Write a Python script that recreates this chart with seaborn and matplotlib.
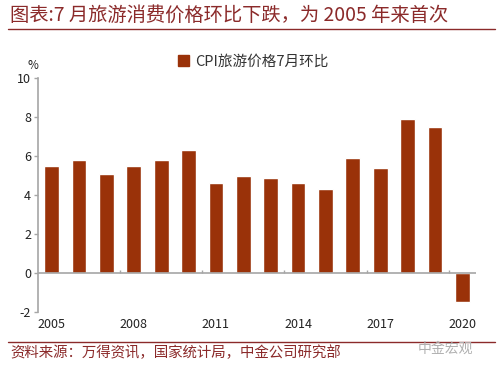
import matplotlib
matplotlib.use("Agg")
import matplotlib.pyplot as plt
import seaborn as sns
import pandas as pd
from matplotlib.patches import Rectangle
from matplotlib.lines import Line2D

years = [str(y) for y in range(2005, 2021)]
values = [5.5, 5.8, 5.1, 5.5, 5.8, 6.3, 4.6, 5.0, 4.9, 4.6, 4.3, 5.9, 5.4, 7.9, 7.5, -1.5]
series_name = "CPI旅游价格7月环比"
label_years = ["2005", "2008", "2011", "2014", "2017", "2020"]
yticks = [-2, 0, 2, 4, 6, 8, 10]

sns.set_theme(style="white")
plt.rcParams['font.family'] = ['Noto Sans CJK SC', 'DejaVu Sans']

bar_color = "#9A3209"
red = "#8B2A2A"
grey = "#A6A6A6"

df = pd.DataFrame({"year": years, "value": values})

fig = plt.figure(figsize=(5.0, 3.72), dpi=100)
ax = fig.add_axes([0.076, 0.161, 0.876, 0.629])
sns.barplot(data=df, x="year", y="value", color=bar_color, width=0.54,
            saturation=1, ax=ax, label=series_name)

ax.set_xlim(-0.5, len(years) - 0.5)
ax.set_ylim(-2, 10)
ax.set_yticks(yticks)
ax.set_yticklabels([str(t) for t in yticks], fontsize=9, color="#222222")
ax.set_xlabel("")
ax.set_ylabel("")
pos = [years.index(y) for y in label_years]
ax.set_xticks(pos)
ax.set_xticklabels(label_years, fontsize=9, color="#222222")
ax.tick_params(axis="x", length=0, pad=4)
ax.tick_params(axis="y", length=3, color=grey, width=1, left=True, pad=2)

for s in ["top", "right", "bottom"]:
    ax.spines[s].set_visible(False)
ax.spines["left"].set_color(grey)
ax.spines["left"].set_linewidth(1.2)
ax.axhline(0, color=grey, lw=1.2, zorder=3)
bounds = [2.5, 5.5, 8.5, 11.5, 14.5]
ax.vlines(bounds, 0, 0.15, color=grey, lw=1.0, zorder=3)

ax.text(0.0, 1.025, "%", transform=ax.transAxes, fontsize=8.5, ha="right", va="bottom", color="#222222")

leg = ax.legend(handles=[Rectangle((0, 0), 1, 1, color=bar_color)], labels=[series_name],
                loc="center left", bbox_to_anchor=(0.32, 1.07), frameon=False,
                borderaxespad=0, borderpad=0,
                fontsize=10.5, handlelength=0.75, handleheight=0.75, handletextpad=0.4)
for t in leg.get_texts():
    t.set_color("#333333")

fig.text(0.02, 0.958, "图表:7 月旅游消费价格环比下跌，为 2005 年来首次", fontsize=13.9,
         color=red, ha="left", va="center", style="italic")
fig.add_artist(Line2D([0.016, 0.99], [0.921, 0.921], color=red, lw=1.0))
fig.add_artist(Line2D([0.016, 0.99], [0.081, 0.081], color=red, lw=1.0))
fig.text(0.02, 0.053, "资料来源：万得资讯，国家统计局，中金公司研究部", fontsize=10.4,
         color=red, ha="left", va="center", style="italic")
fig.text(0.89, 0.062, "中金宏观", fontsize=10, color="#B0B0B0", ha="center", va="center")

fig.savefig("out.png", dpi=100, facecolor="white")
